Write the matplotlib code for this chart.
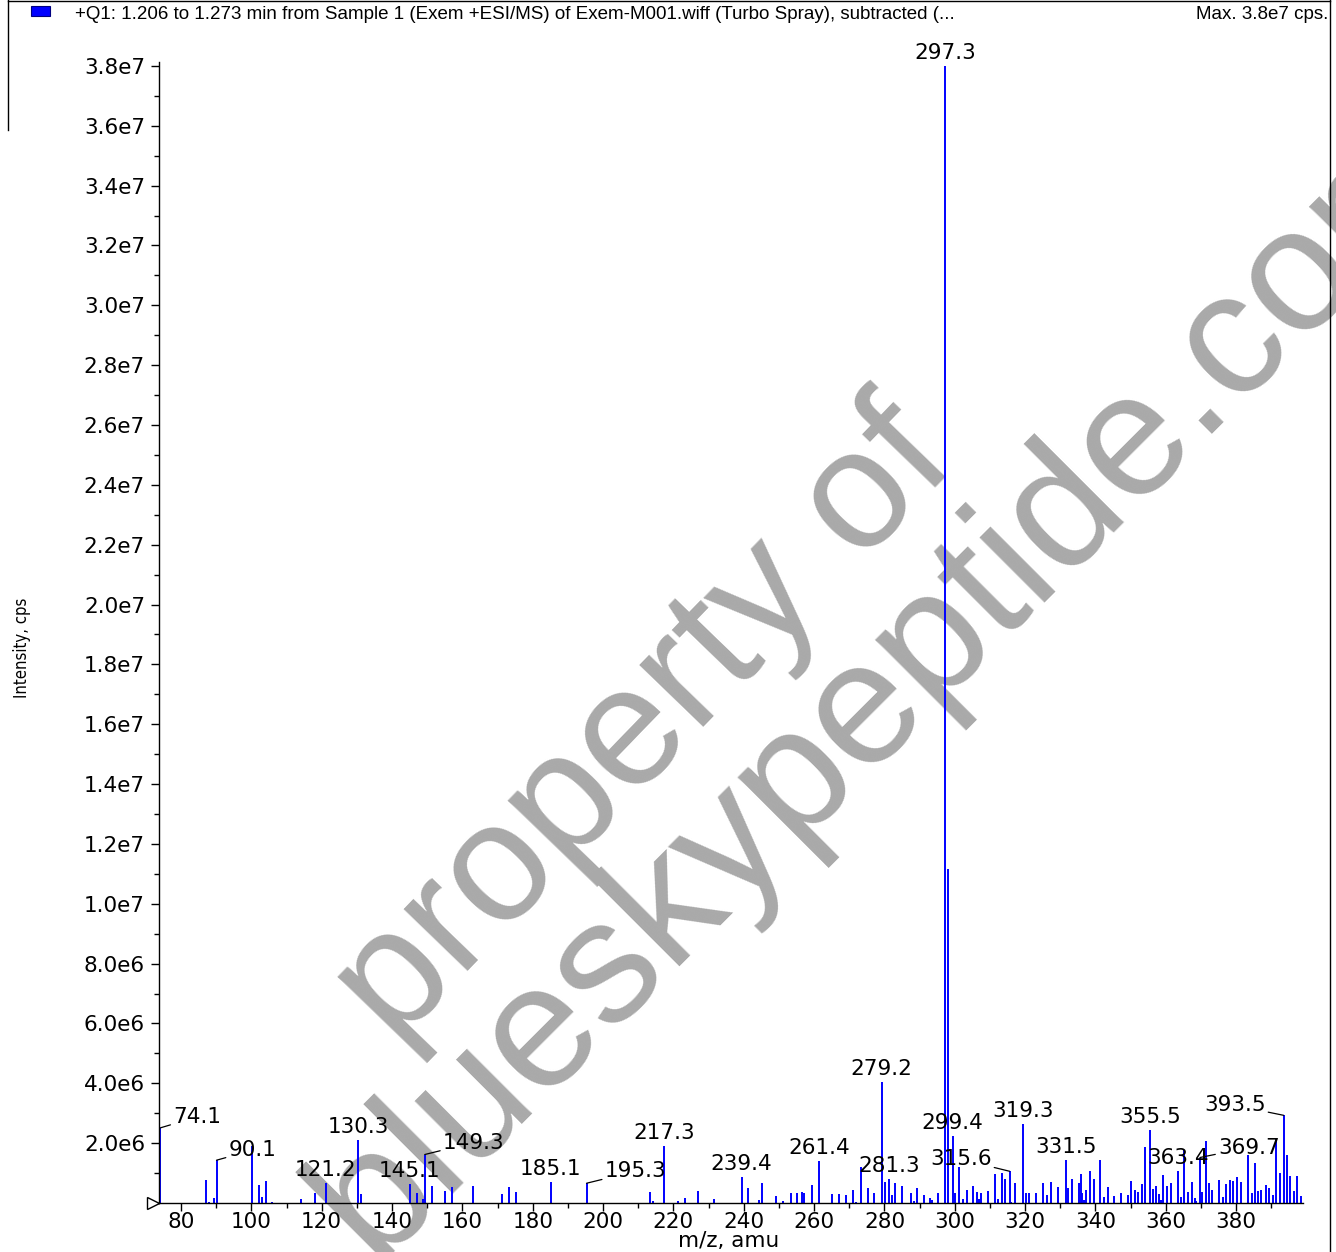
import numpy as np
import matplotlib
matplotlib.use("Agg")
import matplotlib.pyplot as plt
from matplotlib.ticker import MultipleLocator, FuncFormatter
from matplotlib.lines import Line2D
from matplotlib.patches import Rectangle
import matplotlib.transforms as mtransforms

# ---------------- data ----------------
mz = [74.1, 87.1, 88.0, 89.3, 90.1, 100.1, 102.1, 103.0, 104.1, 105.8,
      114.1, 118.1, 121.2, 130.3, 131.1, 145.1, 147.1, 148.7, 149.3, 151.3,
      155.1, 157.1, 163.0, 171.2, 173.2, 175.2, 185.1, 195.3, 213.3, 214.2,
      217.3, 221.2, 223.2, 227.1, 231.5, 239.4, 241.2, 244.3, 245.1, 249.2,
      251.3, 253.4, 255.2, 256.5, 257.1, 259.3, 261.4, 265.0, 267.0, 269.0,
      271.0, 272.0, 273.2, 275.3, 277.0, 279.2, 280.3, 281.3, 282.1, 283.1,
      285.1, 287.5, 288.3, 289.3, 291.2, 293.0, 293.5, 295.2, 297.3, 298.0,
      299.4, 300.2, 301.3, 302.4, 303.4, 305.3, 306.3, 307.0, 307.4, 309.4,
      311.3, 312.3, 313.4, 314.4, 315.6, 316.1, 317.1, 319.3, 320.2, 321.1,
      323.2, 325.2, 326.2, 327.3, 329.3, 331.5, 332.2, 333.2, 335.2, 335.8,
      336.3, 336.7, 337.4, 338.5, 339.5, 341.4, 342.4, 343.5, 345.3, 347.2,
      349.2, 350.2, 351.2, 352.2, 353.2, 354.2, 355.5, 356.4, 357.2, 358.2,
      358.6, 359.3, 360.4, 361.4, 363.4, 364.2, 365.2, 366.2, 367.4, 368.3,
      368.7, 369.7, 370.4, 371.4, 372.4, 373.2, 375.2, 376.2, 377.2, 378.2,
      379.2, 380.2, 381.3, 383.4, 384.4, 385.4, 386.3, 387.2, 388.6, 389.4,
      390.4, 391.4, 392.4, 393.5, 394.5, 395.4, 396.4, 397.3, 398.3]
intensity = [2.51e6, 0.77e6, 0.05e6, 0.18e6, 1.43e6, 1.90e6, 0.59e6, 0.20e6, 0.72e6, 0.05e6,
             0.15e6, 0.33e6, 0.67e6, 2.12e6, 0.29e6, 0.65e6, 0.34e6, 0.15e6, 1.62e6, 0.58e6,
             0.40e6, 0.54e6, 0.58e6, 0.30e6, 0.55e6, 0.36e6, 0.69e6, 0.66e6, 0.38e6, 0.07e6,
             1.90e6, 0.07e6, 0.18e6, 0.40e6, 0.15e6, 0.88e6, 0.49e6, 0.11e6, 0.67e6, 0.25e6,
             0.08e6, 0.33e6, 0.34e6, 0.38e6, 0.32e6, 0.59e6, 1.41e6, 0.31e6, 0.30e6, 0.27e6,
             0.45e6, 0.05e6, 1.21e6, 0.51e6, 0.34e6, 4.03e6, 0.71e6, 0.81e6, 0.28e6, 0.68e6,
             0.57e6, 0.34e6, 0.06e6, 0.51e6, 0.28e6, 0.18e6, 0.09e6, 0.32e6, 3.80e7, 1.117e7,
             2.24e6, 0.32e6, 1.21e6, 0.15e6, 0.45e6, 0.58e6, 0.38e6, 0.13e6, 0.34e6, 0.41e6,
             0.96e6, 0.13e6, 1.00e6, 0.80e6, 1.06e6, 0.05e6, 0.68e6, 2.64e6, 0.32e6, 0.32e6,
             0.34e6, 0.67e6, 0.28e6, 0.69e6, 0.55e6, 1.45e6, 0.50e6, 0.81e6, 0.66e6, 0.97e6,
             0.32e6, 0.10e6, 0.45e6, 1.07e6, 0.81e6, 1.45e6, 0.20e6, 0.52e6, 0.25e6, 0.34e6,
             0.28e6, 0.72e6, 0.43e6, 0.36e6, 0.63e6, 1.87e6, 2.45e6, 0.47e6, 0.57e6, 0.29e6,
             0.10e6, 0.94e6, 0.57e6, 0.68e6, 1.08e6, 0.19e6, 1.78e6, 0.36e6, 0.71e6, 0.16e6,
             0.06e6, 1.52e6, 0.38e6, 2.08e6, 0.67e6, 0.45e6, 0.76e6, 0.20e6, 0.62e6, 0.78e6,
             0.73e6, 0.88e6, 0.70e6, 1.60e6, 0.35e6, 1.35e6, 0.39e6, 0.43e6, 0.59e6, 0.50e6,
             0.28e6, 2.18e6, 1.00e6, 2.93e6, 1.62e6, 0.89e6, 0.41e6, 0.89e6, 0.25e6]

labelled_peaks = [74.1, 90.1, 121.2, 130.3, 145.1, 149.3, 185.1, 195.3, 217.3, 239.4,
                  261.4, 279.2, 281.3, 297.3, 299.4, 315.6, 319.3, 331.5, 355.5, 363.4,
                  369.7, 393.5]
# labels with a leader line (offset in pixels from the peak top)
leader_offsets = {74.1: (37, 11), 90.1: (36, 10), 149.3: (49, 12), 195.3: (49, 12),
                  315.6: (-49, 12), 369.7: (49, 10), 393.5: (-49, 10)}

title_text = "+Q1: 1.206 to 1.273 min from Sample 1 (Exem +ESI/MS) of Exem-M001.wiff (Turbo Spray), subtracted (..."
max_text = "Max. 3.8e7 cps."
x_label = "m/z, amu"
y_label = "Intensity, cps"
watermark_1 = "property of"
watermark_2 = "blueskypeptide.com"

# ---------------- figure ----------------
W, H = 1336, 1252
fig = plt.figure(figsize=(W / 100, H / 100), dpi=100)
fig.patch.set_facecolor("white")


def fx(px):
    return px / W


def fy(py):
    return 1 - py / H


ax = fig.add_axes([fx(159), fy(1203), fx(1303) - fx(159), fy(62) - fy(1203)])
ax.patch.set_visible(False)

FS = 15.5

ax.vlines(mz, 0, intensity, colors="#0000FF", linewidth=1.4, zorder=2)

ax.set_xlim(73.75, 399.0)
ax.set_ylim(0, 3.813e7)

for s in ["top", "right"]:
    ax.spines[s].set_visible(False)
for s in ["left", "bottom"]:
    ax.spines[s].set_linewidth(1.0)
    ax.spines[s].set_color("black")

ax.xaxis.set_major_locator(MultipleLocator(20))
ax.xaxis.set_minor_locator(MultipleLocator(10))
ax.yaxis.set_major_locator(MultipleLocator(2e6))
ax.yaxis.set_minor_locator(MultipleLocator(1e6))


def yfmt(v, pos):
    if v <= 0:
        return ""
    e = int(np.floor(np.log10(v) + 1e-9))
    return f"{v / 10 ** e:.1f}e{e}"


ax.yaxis.set_major_formatter(FuncFormatter(yfmt))
ax.xaxis.set_major_formatter(FuncFormatter(lambda v, p: f"{int(round(v))}"))
ax.tick_params(axis="both", which="major", length=6, width=1, direction="out")
ax.tick_params(axis="x", which="major", pad=0.5)
ax.tick_params(axis="y", which="major", pad=4)
ax.tick_params(axis="both", which="minor", length=3.5, width=1, direction="out")
for lab in ax.get_xticklabels() + ax.get_yticklabels():
    lab.set_fontfamily("DejaVu Sans")
    lab.set_fontsize(FS)

# x label placed just under the tick labels
fig.text(fx(729), fy(1241), x_label, ha="center", va="center", fontsize=FS,
         family="DejaVu Sans")

# peak labels
mz_arr = np.array(mz)
for lbl in labelled_peaks:
    i = int(np.argmin(np.abs(mz_arr - lbl)))
    x0, y0 = mz[i], intensity[i]
    txt = f"{lbl:.1f}"
    if lbl in leader_offsets:
        dx, dy = leader_offsets[lbl]
        ax.annotate(txt, xy=(x0, y0), xytext=(dx, dy), textcoords="offset pixels",
                    ha="center", va="center", fontsize=FS, family="DejaVu Sans",
                    arrowprops=dict(arrowstyle="-", color="black", lw=0.9,
                                    shrinkA=0, shrinkB=0), zorder=4)
    else:
        ax.annotate(txt, xy=(x0, y0), xytext=(0, 3), textcoords="offset pixels",
                    ha="center", va="bottom", fontsize=FS, family="DejaVu Sans", zorder=4)

# open triangle at the origin
tr = ax.transAxes + mtransforms.ScaledTranslation(-6 / 100, 0, fig.dpi_scale_trans)
ax.plot([0], [0], marker=">", markersize=9, mfc="white", mec="black", mew=1,
        transform=tr, clip_on=False, zorder=5)

# y label
fig.text(fx(22), fy(648), y_label, rotation=90, ha="center", va="center",
         fontsize=12, family="DejaVu Sans", fontstretch="condensed")

# header
fig.add_artist(Rectangle((fx(31), fy(16)), fx(19), fy(6) - fy(16), transform=fig.transFigure,
                         facecolor="#0000FF", edgecolor="#000080", lw=0.8))
fig.text(fx(75), fy(19), title_text, ha="left", va="baseline", fontsize=13.5,
         family="Liberation Sans")
fig.text(fx(1328), fy(19), max_text, ha="right", va="baseline", fontsize=13.5,
         family="Liberation Sans")

# frame lines
fig.add_artist(Line2D([fx(8), fx(8)], [fy(0), fy(130)], transform=fig.transFigure,
                      color="black", lw=1))
fig.add_artist(Line2D([fx(8), fx(1330)], [fy(0.5), fy(0.5)], transform=fig.transFigure,
                      color="black", lw=1))
fig.add_artist(Line2D([fx(1330), fx(1330)], [fy(0), fy(1252)], transform=fig.transFigure,
                      color="black", lw=1))

# watermark
fig.text(fx(645), fy(725), watermark_1, rotation=46, ha="center", va="center",
         rotation_mode="anchor", fontsize=122, color="#A9A9A9",
         family="Liberation Sans", zorder=-5)
fig.text(fx(888), fy(683), watermark_2, rotation=45, ha="center", va="center",
         rotation_mode="anchor", fontsize=126, color="#A9A9A9",
         family="Liberation Sans", zorder=-5)

fig.savefig("out.png", dpi=100, facecolor="white")
